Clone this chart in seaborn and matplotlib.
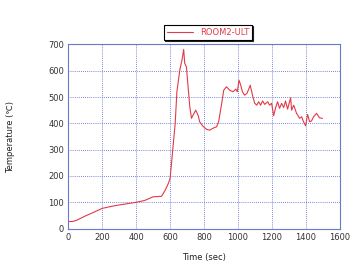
import matplotlib
matplotlib.use("Agg")
import matplotlib.pyplot as plt
import seaborn as sns
import pandas as pd

time_sec = [0, 25, 50, 75, 100, 150, 200, 250, 300, 350, 400, 450, 500, 530, 550, 570, 590, 600,
            610, 620, 630, 640, 657, 670, 680, 686, 696, 706, 716, 726, 735, 751, 765, 774, 792,
            815, 833, 851, 874, 886, 904, 916, 932, 951, 971, 987, 996, 1006, 1016, 1026, 1039,
            1053, 1065, 1072, 1086, 1098, 1110, 1122, 1133, 1145, 1157, 1175, 1186, 1198, 1210,
            1222, 1233, 1245, 1257, 1269, 1280, 1292, 1310, 1316, 1328, 1345, 1363, 1375, 1386,
            1398, 1410, 1422, 1433, 1445, 1463, 1480, 1498]
temperature = [27, 27, 32, 40, 48, 62, 77, 84, 90, 95, 100, 107, 121, 122, 123, 145, 172, 191,
               260, 330, 400, 520, 602, 640, 681, 628, 615, 539, 463, 419, 431, 450, 431, 406, 390,
               377, 374, 381, 387, 406, 476, 526, 539, 526, 520, 530, 520, 564, 545, 520, 507,
               514, 533, 545, 505, 477, 469, 482, 469, 485, 472, 482, 469, 476, 429,
               460, 482, 457, 476, 460, 485, 454, 497, 450, 469, 438, 419, 425, 406,
               391, 434, 406, 409, 425, 438, 421, 419]
series_name = "ROOM2-ULT"

df = pd.DataFrame({"Time (sec)": time_sec, "Temperature": temperature})

sns.set_style("white")
plt.rcParams['font.family'] = ['DejaVu Sans']

fig = plt.figure(figsize=(3.5, 2.61), dpi=100)
ax = fig.add_axes([0.195, 0.124, 0.776, 0.706])

line_color = "#e23a48"
sns.lineplot(data=df, x="Time (sec)", y="Temperature", ax=ax, color=line_color,
             linewidth=0.8, label=series_name, estimator=None, sort=False)

ax.set_xlim(0, 1600)
ax.set_ylim(0, 700)
ax.set_xticks(range(0, 1601, 200))
ax.set_yticks(range(0, 701, 100))
ax.grid(True, color="#5060c8", linestyle=(0, (1, 1.5)), linewidth=0.6)
for s in ax.spines.values():
    s.set_color("#6a78c8")
    s.set_linewidth(0.8)
ax.tick_params(axis="both", labelsize=6, colors="#333333", length=0, pad=3)
ax.set_xlabel("Time (sec)", fontsize=6, color="#222222", labelpad=8)
ax.set_ylabel("Temperature (℃)", fontsize=6, color="#222222", labelpad=24)

leg = ax.legend(loc="lower center", bbox_to_anchor=(0.515, 1.025), fontsize=6,
                frameon=True, fancybox=False,
                shadow={'ox': 0.8, 'oy': -0.8, 'color': '#222222', 'alpha': 1},
                handlelength=3.2, borderpad=0.35, borderaxespad=0)
leg.get_frame().set_edgecolor("black")
leg.get_frame().set_linewidth(0.8)
for t in leg.get_texts():
    t.set_color(line_color)

fig.savefig("out.png", dpi=100)
